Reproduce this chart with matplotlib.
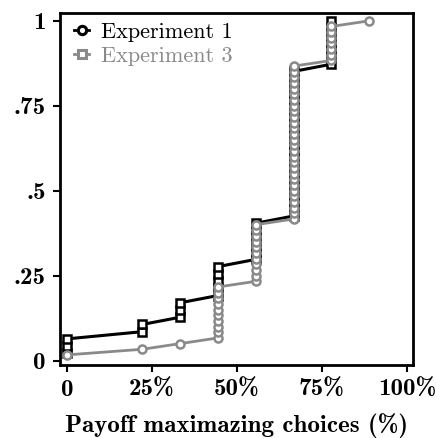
import numpy as np
import matplotlib
matplotlib.use("Agg")
import matplotlib.pyplot as plt
from matplotlib.lines import Line2D

# share of payoff maximizing choices (out of 9 rounds)
levels = [0, 2/9, 3/9, 4/9, 5/9, 6/9, 7/9, 8/9]
# number of participants at each level
counts_exp1 = [3, 2, 3, 5, 6, 21, 7, 0]
counts_exp3 = [1, 1, 1, 10, 11, 28, 7, 1]

xticks = [0, 0.25, 0.5, 0.75, 1.0]
xticklabels = ["0", "25%", "50%", "75%", "100%"]
yticks = [0, 0.25, 0.5, 0.75, 1.0]
yticklabels = ["0", ".25", ".5", ".75", "1"]

BLACK = "#000000"
GRAY = "#8a8a8a"


def ecdf(counts):
    xs = np.repeat(levels, counts)
    n = len(xs)
    ys = np.arange(1, n + 1) / n
    return xs, ys


fig = plt.figure(figsize=(4.37, 4.38), dpi=100)
ax = fig.add_axes([0.137, 0.167, 0.808, 0.803])

x1, y1 = ecdf(counts_exp1)
x3, y3 = ecdf(counts_exp3)

ax.plot(x1, y1, color=BLACK, lw=2.2, marker="s", ms=5.5, mew=1.8,
        mfc="white", mec=BLACK, zorder=2)
ax.plot(x3, y3, color=GRAY, lw=2.0, marker="o", ms=5.8, mew=1.8,
        mfc="white", mec=GRAY, zorder=3)

ax.set_xlim(-0.0206, 1.0176)
ax.set_ylim(-0.0126, 1.0226)

bold = {"family": "cmb10", "size": 18}
ax.set_xticks(xticks)
ax.set_xticklabels(xticklabels, fontdict=bold)
ax.set_yticks(yticks)
ax.set_yticklabels(yticklabels, fontdict=bold)
ax.tick_params(direction="out", length=5, width=1.5, pad=5)
for s in ax.spines.values():
    s.set_linewidth(2.0)
ax.set_xlabel("Payoff maximazing choices (%)", fontdict=bold, labelpad=9)

# legend markers in the original are swapped relative to the plot
handles = [
    Line2D([], [], color=BLACK, lw=2.0, marker="o", ms=6, mew=2.2,
           mfc="white", mec=BLACK),
    Line2D([], [], color=GRAY, lw=2.0, marker="s", ms=6, mew=2.2,
           mfc="white", mec=GRAY),
]
leg = ax.legend(handles, ["Experiment 1", "Experiment 3"], loc="upper left",
                bbox_to_anchor=(0.024, 0.99),
                frameon=False, handlelength=0.7, handletextpad=0.5,
                borderaxespad=0.1, borderpad=0.15, labelspacing=0.2,
                prop={"family": "cmr10", "size": 16})
leg.get_texts()[1].set_color(GRAY)

fig.savefig("out.png", dpi=100)
